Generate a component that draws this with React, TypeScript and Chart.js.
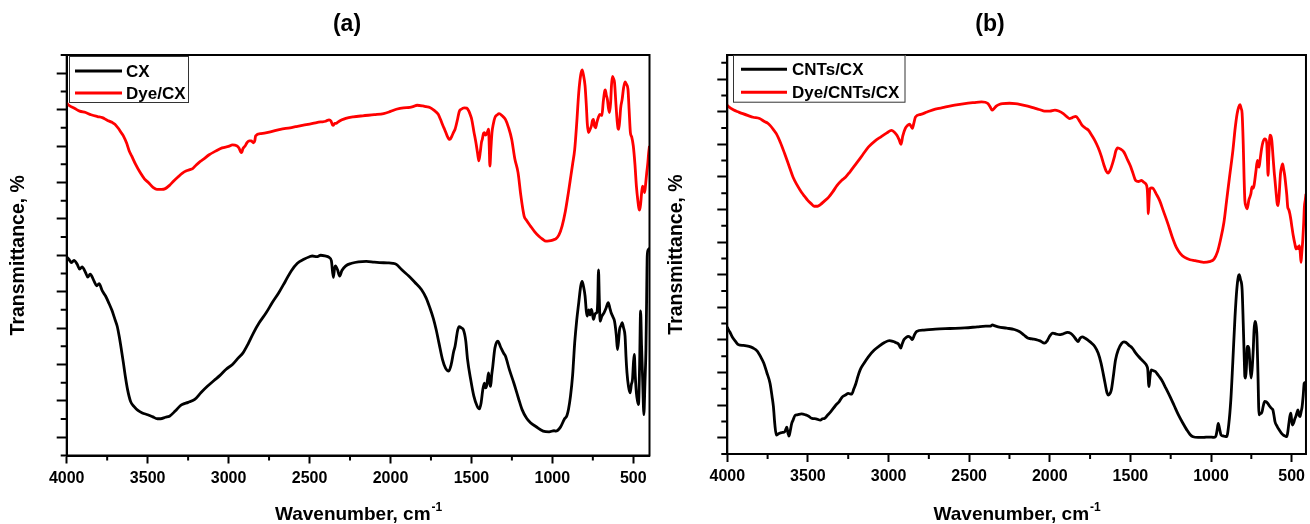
import React, { useEffect, useRef } from "react";
import { Chart, registerables } from "chart.js";

Chart.register(...registerables);

const FONT_FAMILY = "'Liberation Sans', Arial, Helvetica, sans-serif";

// Wavenumber axis (cm-1), drawn from high to low
const wavenumberTicks = [4000, 3500, 3000, 2500, 2000, 1500, 1000, 500];
const wavenumberMinorTicks = [3750, 3250, 2750, 2250, 1750, 1250, 750];

// Transmittance axis marks (the axis carries no numbers)
const transmittanceMajorA = [5, 15, 25, 35, 45, 55, 65, 75, 85, 95, 105];
const transmittanceMinorA = [0, 10, 20, 30, 40, 50, 60, 70, 80, 90, 100, 110];
const transmittanceMajorB = [5, 15, 25, 35, 45, 55, 65, 75, 85, 95, 105, 115];
const transmittanceMinorB = [0, 10, 20, 30, 40, 50, 60, 70, 80, 90, 100, 110, 120];

// ---- (a) CX ----
const cxWavenumber = [
  4000, 3987, 3970, 3955, 3935, 3920, 3905, 3883, 3870, 3855,
  3831, 3815, 3800, 3780, 3760, 3741, 3720, 3702, 3688, 3676,
  3662, 3650, 3637, 3624, 3605, 3585, 3560, 3533, 3500, 3468,
  3440, 3420, 3390, 3365, 3330, 3300, 3287, 3250, 3209, 3170,
  3131, 3090, 3053, 3015, 2976, 2940, 2911, 2880, 2846, 2810,
  2768, 2730, 2690, 2650, 2613, 2575, 2535, 2500, 2483, 2455,
  2431, 2405, 2379, 2365, 2353, 2345, 2340, 2327, 2314, 2300,
  2276, 2240, 2198, 2150, 2100, 2068, 2020, 1985, 1964, 1930,
  1887, 1850, 1809, 1780, 1757, 1735, 1718, 1700, 1679, 1660,
  1640, 1625, 1610, 1601, 1585, 1576, 1560, 1550, 1535, 1524,
  1505, 1485, 1465, 1451, 1440, 1430, 1420, 1413, 1407, 1400,
  1394, 1388, 1381, 1375, 1368, 1355, 1337, 1320, 1300, 1290,
  1265, 1238, 1210, 1187, 1160, 1135, 1100, 1057, 1020, 990,
  979, 950, 927, 910, 900, 888, 875, 862, 850, 837,
  825, 816, 808, 798, 790, 785, 775, 768, 759, 752,
  746, 735, 726, 720, 715, 710, 705, 695, 681, 668,
  655, 645, 637, 625, 616, 605, 598, 590, 585, 575,
  569, 560, 551, 545, 539, 530, 520, 512, 505, 499,
  494, 488, 481, 474, 468, 461, 455, 449, 443, 438,
  435, 428, 422, 418, 414, 408, 400,
];
const cxTransmittance = [
  54.5, 53.9, 53.0, 53.6, 52.5, 51.2, 51.8, 50.2, 49.0, 49.8,
  47.9, 46.6, 47.2, 45.2, 43.8, 42.0, 39.8, 37.4, 35.5, 32.8,
  29.0, 25.5, 21.5, 18.1, 14.8, 13.5, 12.4, 11.7, 11.2, 10.6,
  10.1, 10.1, 10.5, 10.8, 12.2, 13.6, 14.0, 14.6, 15.4, 17.3,
  19.0, 20.6, 22.0, 23.7, 25.0, 26.8, 28.2, 30.6, 33.7, 36.5,
  39.2, 42.0, 44.7, 47.8, 50.7, 52.8, 53.9, 54.6, 54.8, 54.6,
  55.0, 54.8, 54.4, 53.5, 48.9, 51.5, 52.1, 51.0, 49.3, 50.8,
  52.1, 52.8, 53.2, 53.3, 53.1, 53.0, 52.9, 52.8, 52.5, 51.0,
  49.3, 47.6, 45.6, 43.3, 40.6, 37.6, 34.6, 30.8, 26.4, 24.0,
  23.2, 25.0, 28.5, 30.0, 34.4, 35.4, 35.0, 34.6, 31.5, 26.4,
  21.0, 16.3, 13.6, 12.8, 14.5, 18.0, 19.9, 18.6, 19.0, 21.0,
  22.7, 20.0, 19.0, 22.0, 24.5, 29.5, 31.4, 29.8, 28.0, 27.3,
  23.5, 19.9, 15.8, 12.6, 10.3, 9.0, 7.9, 6.7, 6.5, 6.8,
  6.7, 7.8, 9.9, 11.0, 12.8, 16.3, 22.0, 31.0, 37.0, 42.0,
  46.5, 47.8, 46.5, 43.8, 39.5, 38.3, 40.0, 38.6, 40.1, 38.8,
  37.4, 39.0, 39.2, 42.0, 51.0, 43.0, 36.9, 38.2, 39.2, 40.5,
  42.0, 40.5, 39.2, 38.0, 36.9, 33.0, 29.1, 32.0, 34.6, 35.8,
  36.5, 35.0, 32.8, 27.0, 22.7, 19.0, 17.2, 19.5, 20.9, 25.5,
  27.8, 22.0, 17.2, 15.0, 14.0, 25.0, 39.7, 30.0, 21.8, 14.0,
  11.2, 20.0, 29.1, 42.0, 54.8, 56.5, 57.0,
];

// ---- (a) Dye/CX ----
const dyeCxWavenumber = [
  4000, 3987, 3950, 3920, 3883, 3850, 3810, 3780, 3750, 3720,
  3702, 3680, 3665, 3650, 3630, 3615, 3598, 3575, 3546, 3520,
  3494, 3465, 3443, 3415, 3391, 3365, 3339, 3310, 3287, 3260,
  3240, 3222, 3200, 3180, 3157, 3120, 3080, 3040, 3000, 2976,
  2950, 2937, 2925, 2919, 2912, 2898, 2885, 2872, 2860, 2846,
  2838, 2833, 2800, 2742, 2680, 2620, 2587, 2530, 2480, 2431,
  2400, 2379, 2368, 2358, 2353, 2345, 2335, 2327, 2300, 2276,
  2230, 2172, 2100, 2042, 2000, 1964, 1920, 1880, 1861, 1835,
  1800, 1780, 1757, 1730, 1705, 1690, 1675, 1666, 1650, 1640,
  1633, 1620, 1610, 1601, 1585, 1575, 1563, 1545, 1529, 1515,
  1505, 1498, 1485, 1472, 1462, 1454, 1445, 1438, 1433, 1425,
  1420, 1413, 1407, 1400, 1394, 1390, 1386, 1380, 1373, 1365,
  1355, 1340, 1329, 1310, 1290, 1270, 1251, 1232, 1212, 1195,
  1180, 1174, 1160, 1135, 1110, 1083, 1060, 1040, 1031, 1010,
  990, 979, 960, 940, 920, 901, 885, 875, 862, 850,
  837, 825, 816, 808, 798, 790, 784, 777, 768, 759,
  752, 746, 740, 733, 725, 715, 707, 700, 694, 686,
  678, 673, 667, 660, 654, 647, 640, 635, 629, 622,
  616, 608, 600, 594, 590, 584, 578, 569, 560, 551,
  543, 533, 526, 518, 510, 500, 490, 481, 472, 466,
  461, 455, 449, 443, 437, 430, 424, 417, 410, 405,
  400,
];
const dyeCxTransmittance = [
  96.8, 96.2, 95.3, 94.6, 94.2, 93.6, 93.1, 92.8, 92.1, 91.5,
  91.0, 89.8, 88.8, 87.8, 85.8, 83.8, 82.2, 80.0, 77.7, 76.0,
  74.9, 73.6, 73.1, 73.1, 73.3, 74.2, 75.4, 76.6, 77.5, 78.2,
  78.5, 78.8, 79.8, 80.6, 81.3, 82.6, 83.6, 84.5, 84.9, 85.3,
  85.1, 84.5, 83.4, 83.2, 84.2, 85.0, 86.0, 86.4, 86.4, 85.9,
  86.5, 87.8, 88.4, 88.9, 89.6, 90.0, 90.3, 90.8, 91.2, 91.6,
  91.8, 92.2, 91.9, 90.8, 90.7, 91.2, 91.2, 91.5, 92.2, 92.6,
  93.0, 93.3, 93.6, 93.9, 94.5, 95.1, 95.5, 95.6, 95.8, 96.2,
  96.0, 95.8, 95.6, 94.8, 93.7, 92.2, 90.5, 89.6, 87.8, 87.0,
  86.8, 87.8, 88.8, 89.6, 92.5, 94.5, 95.1, 95.5, 95.4, 94.5,
  93.3, 92.3, 89.0, 85.9, 83.0, 80.9, 83.5, 86.0, 86.8, 88.5,
  88.7, 88.0, 88.2, 89.0, 89.6, 85.0, 79.5, 84.0, 88.7, 91.0,
  92.8, 93.6, 93.9, 93.3, 92.3, 90.0, 86.8, 81.5, 77.7, 71.5,
  67.0, 65.7, 64.6, 63.0, 61.5, 60.2, 59.4, 58.9, 58.9, 59.0,
  59.3, 59.5, 60.5, 63.0, 67.0, 72.2, 77.0, 80.0, 84.1, 91.0,
  99.7, 104.5, 105.9, 104.5, 101.5, 96.0, 91.0, 88.7, 89.5, 90.5,
  92.0, 92.3, 90.5, 90.0, 91.5, 93.0, 93.7, 93.5, 93.4, 97.0,
  99.8, 100.4, 99.0, 97.8, 95.5, 94.2, 97.0, 101.5, 104.1, 103.5,
  102.4, 97.0, 92.0, 89.8, 89.6, 92.0, 95.5, 97.8, 101.0, 102.6,
  102.0, 100.6, 95.0, 88.7, 87.5, 85.0, 80.0, 74.0, 70.0, 68.0,
  67.4, 69.0, 72.0, 74.0, 73.5, 72.2, 74.5, 77.7, 80.5, 83.2,
  85.0,
];

// ---- (b) CNTs/CX ----
const cntsCxWavenumber = [
  4000, 3995, 3985, 3969, 3950, 3930, 3900, 3865, 3840, 3813,
  3795, 3774, 3755, 3735, 3722, 3714, 3705, 3696, 3683, 3670,
  3657, 3644, 3631, 3624, 3618, 3610, 3600, 3592, 3580, 3566,
  3540, 3514, 3495, 3475, 3450, 3423, 3410, 3397, 3380, 3358,
  3330, 3306, 3285, 3267, 3250, 3235, 3228, 3215, 3202, 3190,
  3176, 3150, 3124, 3090, 3060, 3025, 2995, 2970, 2956, 2940,
  2930, 2924, 2915, 2904, 2890, 2878, 2865, 2852, 2840, 2826,
  2780, 2709, 2620, 2527, 2450, 2397, 2370, 2355, 2345, 2320,
  2267, 2220, 2189, 2160, 2137, 2110, 2085, 2060, 2033, 2015,
  2000, 1981, 1960, 1942, 1920, 1890, 1870, 1851, 1835, 1825,
  1812, 1799, 1780, 1760, 1740, 1721, 1700, 1682, 1668, 1657,
  1645, 1636, 1626, 1618, 1608, 1592, 1575, 1553, 1540, 1527,
  1510, 1488, 1470, 1449, 1430, 1410, 1398, 1392, 1387, 1384,
  1380, 1371, 1360, 1345, 1325, 1306, 1280, 1254, 1228, 1202,
  1175, 1150, 1130, 1111, 1080, 1046, 1015, 981, 968, 960,
  955, 948, 937, 920, 903, 890, 877, 865, 851, 840,
  830, 825, 817, 807, 800, 793, 790, 785, 780, 775,
  770, 764, 758, 751, 745, 738, 733, 728, 722, 715,
  709, 702, 695, 686, 677, 667, 658, 649, 641, 634,
  625, 616, 610, 603, 590, 577, 565, 551, 540, 530,
  523, 517, 511, 505, 500, 495, 488, 480, 474, 468,
  461, 455, 448, 441, 435, 428, 422, 415, 411,
];
const cntsCxTransmittance = [
  39.0, 38.3, 37.5, 35.9, 34.6, 33.5, 33.3, 33.0, 32.5, 31.5,
  30.0, 27.9, 25.0, 21.7, 17.5, 14.5, 9.0, 5.8, 6.2, 6.5,
  6.6, 6.8, 8.2, 6.5, 5.5, 7.0, 9.5, 10.4, 11.8, 12.0,
  12.3, 12.0, 11.6, 10.9, 10.8, 10.4, 10.8, 10.9, 11.8, 13.0,
  14.8, 16.1, 17.6, 18.1, 18.6, 18.4, 18.4, 20.0, 21.7, 23.8,
  25.8, 28.0, 29.9, 31.8, 33.0, 34.2, 34.8, 34.5, 34.2, 33.8,
  33.0, 32.5, 33.8, 35.1, 35.8, 36.1, 35.8, 35.1, 36.5, 37.6,
  38.0, 38.3, 38.5, 38.7, 39.0, 39.2, 39.2, 39.6, 39.4, 39.0,
  38.6, 38.2, 37.6, 36.5, 35.6, 35.3, 35.1, 34.7, 34.0, 34.8,
  36.2, 37.1, 36.8, 36.6, 36.8, 37.3, 37.0, 36.1, 35.0, 34.5,
  35.5, 35.9, 35.5, 34.8, 34.0, 33.0, 31.0, 27.9, 24.5, 21.7,
  18.8, 18.1, 18.6, 19.7, 23.0, 28.9, 32.0, 34.0, 34.4, 34.2,
  33.4, 32.5, 31.2, 29.9, 28.9, 27.9, 27.0, 25.8, 21.5, 20.7,
  23.0, 25.8, 25.6, 25.3, 24.0, 22.7, 20.2, 17.6, 14.8, 12.0,
  9.5, 7.4, 6.0, 5.3, 5.1, 5.1, 5.2, 5.1, 5.8, 8.0,
  9.4, 8.0, 5.8, 5.5, 5.3, 9.0, 16.6, 28.0, 42.2, 50.5,
  54.5, 55.0, 53.5, 50.4, 40.0, 28.0, 23.8, 23.3, 27.0, 33.0,
  33.0, 32.0, 27.0, 23.3, 26.0, 32.0, 38.0, 40.7, 40.0, 36.1,
  25.0, 12.0, 12.5, 12.5, 14.5, 16.1, 16.0, 15.6, 15.0, 14.5,
  14.0, 13.5, 12.0, 9.9, 8.5, 7.4, 6.5, 5.8, 5.5, 5.3,
  7.0, 9.4, 11.5, 12.5, 10.5, 8.9, 9.5, 10.8, 11.5, 12.5,
  13.5, 12.0, 11.5, 13.0, 14.5, 18.0, 21.7, 22.0, 21.7,
];

// ---- (b) Dye/CNTs/CX ----
const dyeCntsCxWavenumber = [
  4000, 3995, 3960, 3930, 3904, 3870, 3840, 3800, 3770, 3750,
  3735, 3715, 3696, 3670, 3644, 3618, 3592, 3566, 3540, 3520,
  3501, 3480, 3462, 3440, 3423, 3400, 3371, 3345, 3319, 3290,
  3267, 3240, 3202, 3160, 3124, 3085, 3047, 3010, 2982, 2965,
  2948, 2935, 2922, 2912, 2896, 2882, 2870, 2860, 2852, 2843,
  2833, 2800, 2761, 2710, 2657, 2590, 2527, 2470, 2423, 2400,
  2384, 2370, 2358, 2345, 2332, 2310, 2293, 2250, 2215, 2180,
  2137, 2090, 2060, 2033, 2000, 1968, 1945, 1916, 1895, 1877,
  1860, 1838, 1820, 1799, 1780, 1760, 1740, 1721, 1700, 1682,
  1665, 1650, 1638, 1628, 1618, 1600, 1590, 1579, 1560, 1540,
  1520, 1501, 1485, 1467, 1450, 1431, 1415, 1405, 1395, 1390,
  1389, 1385, 1379, 1368, 1358, 1340, 1319, 1295, 1267, 1240,
  1215, 1190, 1163, 1130, 1098, 1070, 1046, 1010, 981, 960,
  942, 920, 903, 885, 864, 850, 838, 828, 820, 813,
  807, 800, 795, 790, 783, 777, 770, 765, 759, 752,
  746, 740, 733, 722, 712, 707, 702, 695, 686, 677,
  667, 660, 654, 650, 646, 641, 634, 628, 623, 615,
  608, 603, 595, 590, 584, 578, 569, 562, 556, 550,
  543, 537, 530, 524, 518, 511, 505, 498, 490, 480,
  472, 465, 458, 452, 446, 442, 438, 431, 425, 421,
  415, 411,
];
const dyeCntsCxTransmittance = [
  107.0, 106.7, 105.5, 104.9, 104.4, 103.8, 103.3, 102.9, 102.0, 101.5,
  100.8, 99.6, 98.3, 95.5, 92.1, 88.5, 84.9, 82.4, 80.3, 79.0,
  77.8, 76.8, 76.0, 76.0, 76.5, 77.5, 78.8, 80.5, 82.4, 84.0,
  84.9, 86.5, 89.0, 91.8, 94.2, 96.0, 97.3, 98.5, 99.3, 98.8,
  97.8, 96.5, 95.0, 97.5, 99.9, 100.8, 101.2, 100.5, 99.9, 101.5,
  103.4, 104.2, 104.9, 105.8, 106.3, 107.0, 107.5, 107.8, 108.0, 107.9,
  107.5, 106.5, 105.5, 106.0, 106.7, 107.3, 107.5, 107.6, 107.5, 107.2,
  106.7, 106.0, 105.6, 105.2, 105.2, 105.5, 105.2, 104.4, 103.5, 102.9,
  103.2, 103.6, 102.5, 100.8, 100.0, 99.3, 97.8, 96.2, 94.0, 91.6,
  88.8, 86.8, 86.2, 86.8, 88.0, 91.0, 93.0, 93.9, 93.5, 92.6,
  90.5, 88.5, 86.3, 83.9, 83.6, 83.9, 83.3, 82.9, 81.0, 75.0,
  73.7, 77.0, 81.4, 81.6, 81.4, 79.8, 77.8, 74.5, 70.6, 66.5,
  63.4, 61.5, 60.3, 59.6, 59.3, 59.0, 58.8, 59.0, 59.8, 62.0,
  65.5, 71.0, 77.8, 85.0, 93.2, 100.0, 104.4, 106.5, 107.2, 106.0,
  104.4, 95.0, 85.0, 77.8, 76.0, 75.2, 76.5, 78.0, 78.8, 80.0,
  81.9, 81.5, 82.4, 86.5, 90.1, 88.5, 88.0, 90.5, 93.7, 95.8,
  96.7, 96.5, 95.2, 90.0, 85.5, 92.0, 97.8, 97.5, 96.2, 91.0,
  86.5, 83.9, 79.5, 77.0, 76.2, 79.0, 86.0, 88.0, 89.0, 87.5,
  85.5, 82.9, 79.5, 75.7, 75.0, 73.7, 72.0, 69.6, 67.0, 64.5,
  62.9, 63.5, 63.0, 63.9, 61.5, 58.8, 61.0, 65.5, 71.0, 75.7,
  78.0, 79.8,
];

const CANVAS_W = 655;
const CANVAS_H = 524;

type Series = { label: string; wave: number[]; t: number[]; color: string };
type Panel = {
  key: string;
  title: string;
  left: number;
  titleX: number;
  xMin: number;
  yMax: number;
  yMajor: number[];
  yMinor: number[];
  yAxisWidth: number;
  yTitlePad: number;
  xAxisHeight: number;
  padRight: number;
  legendBox: { x: number; y: number; w: number; h: number };
  legendLine: [number, number];
  legendTextX: number;
  legendRows: number[];
  series: Series[];
};

const panels: Panel[] = [
  {
    key: "a",
    title: "(a)",
    left: 0,
    titleX: 347,
    xMin: 400,
    yMax: 110,
    yMajor: transmittanceMajorA,
    yMinor: transmittanceMinorA,
    yAxisWidth: 66.7,
    yTitlePad: 6.6,
    xAxisHeight: 68.5,
    padRight: 5.5,
    legendBox: { x: 69, y: 56, w: 120, h: 47 },
    legendLine: [75, 122],
    legendTextX: 126,
    legendRows: [71, 93],
    series: [
      { label: "CX", wave: cxWavenumber, t: cxTransmittance, color: "#000000" },
      { label: "Dye/CX", wave: dyeCxWavenumber, t: dyeCxTransmittance, color: "#ff0000" },
    ],
  },
  {
    key: "b",
    title: "(b)",
    left: 655,
    titleX: 335,
    xMin: 411,
    yMax: 122.4,
    yMajor: transmittanceMajorB,
    yMinor: transmittanceMinorB,
    yAxisWidth: 72.3,
    yTitlePad: 10.3,
    xAxisHeight: 70,
    padRight: 1.3,
    legendBox: { x: 78, y: 55, w: 172.5, h: 47.7 },
    legendLine: [86, 132],
    legendTextX: 137,
    legendRows: [69.3, 92.3],
    series: [
      { label: "CNTs/CX", wave: cntsCxWavenumber, t: cntsCxTransmittance, color: "#000000" },
      { label: "Dye/CNTs/CX", wave: dyeCntsCxWavenumber, t: dyeCntsCxTransmittance, color: "#ff0000" },
    ],
  },
];

// Frame, minor ticks, panel letter, x-axis title with superscript, boxed legend
function decorations(panel: Panel) {
  return {
    id: "spectrumDecorations" + panel.key,
    afterDraw(chart: any) {
      const { ctx, chartArea } = chart;
      const xs = chart.scales.x;
      const ys = chart.scales.y;
      const { left, right, top, bottom } = chartArea;
      ctx.save();

      // plot frame
      ctx.strokeStyle = "#000";
      ctx.lineWidth = 2;
      ctx.strokeRect(left, top, right - left, bottom - top);

      // minor ticks
      ctx.lineWidth = 2;
      ctx.beginPath();
      for (const v of wavenumberMinorTicks) {
        const px = xs.getPixelForValue(v);
        ctx.moveTo(px, bottom);
        ctx.lineTo(px, bottom + 5);
      }
      for (const v of panel.yMinor) {
        const py = ys.getPixelForValue(v);
        ctx.moveTo(left - 6, py);
        ctx.lineTo(left, py);
      }
      ctx.stroke();

      // panel letter
      ctx.fillStyle = "#000";
      ctx.font = `bold 23px ${FONT_FAMILY}`;
      ctx.textAlign = "center";
      ctx.textBaseline = "middle";
      ctx.fillText(panel.title, panel.titleX, 25);

      // x-axis title with superscript
      const main = "Wavenumber, cm";
      const sup = "-1";
      ctx.font = `bold 19px ${FONT_FAMILY}`;
      const wMain = ctx.measureText(main).width;
      ctx.font = `bold 12px ${FONT_FAMILY}`;
      const wSup = ctx.measureText(sup).width;
      const cx = (left + right) / 2;
      const x0 = cx - (wMain + wSup) / 2;
      ctx.textAlign = "left";
      ctx.textBaseline = "alphabetic";
      ctx.font = `bold 19px ${FONT_FAMILY}`;
      ctx.fillText(main, x0, 520);
      ctx.font = `bold 12px ${FONT_FAMILY}`;
      ctx.fillText(sup, x0 + wMain + 1, 511);

      // legend
      const b = panel.legendBox;
      ctx.fillStyle = "#fff";
      ctx.fillRect(b.x, b.y, b.w, b.h);
      ctx.strokeStyle = "#333";
      ctx.lineWidth = 1;
      ctx.strokeRect(b.x + 0.5, b.y + 0.5, b.w - 1, b.h - 1);
      chart.data.datasets.forEach((ds: any, i: number) => {
        const y = panel.legendRows[i];
        ctx.strokeStyle = ds.borderColor;
        ctx.lineWidth = 3;
        ctx.beginPath();
        ctx.moveTo(panel.legendLine[0], y);
        ctx.lineTo(panel.legendLine[1], y);
        ctx.stroke();
        ctx.fillStyle = "#000";
        ctx.font = `bold 17px ${FONT_FAMILY}`;
        ctx.textAlign = "left";
        ctx.textBaseline = "middle";
        ctx.fillText(ds.label, panel.legendTextX, y + 1);
      });

      ctx.restore();
    },
  };
}

function buildConfig(panel: Panel): any {
  const axisGrid = {
    display: true,
    drawOnChartArea: false,
    drawTicks: true,
    tickWidth: 2,
    tickColor: "#000",
  };
  return {
    type: "line",
    data: {
      datasets: panel.series.map((s) => ({
        label: s.label,
        data: s.wave.map((w, i) => ({ x: w, y: s.t[i] })),
        borderColor: s.color,
        backgroundColor: s.color,
        borderWidth: 2.8,
        pointRadius: 0,
        fill: false,
        cubicInterpolationMode: "monotone",
      })),
    },
    options: {
      responsive: false,
      animation: false,
      devicePixelRatio: 1,
      events: [],
      layout: { padding: { left: 0, right: panel.padRight, top: 55, bottom: 0 } },
      plugins: {
        legend: { display: false },
        title: { display: false },
        tooltip: { enabled: false },
      },
      scales: {
        x: {
          type: "linear",
          reverse: true,
          min: panel.xMin,
          max: 4000,
          afterBuildTicks: (s: any) => {
            s.ticks = wavenumberTicks.map((v) => ({ value: v }));
          },
          afterFit: (s: any) => {
            s.height = panel.xAxisHeight;
          },
          ticks: {
            autoSkip: false,
            maxRotation: 0,
            padding: 5,
            color: "#000",
            font: { family: FONT_FAMILY, size: 16, weight: "bold" },
            callback: (v: any) => String(v),
          },
          grid: { ...axisGrid, tickLength: 8 },
          border: { display: true, color: "#000", width: 2 },
        },
        y: {
          type: "linear",
          min: 0,
          max: panel.yMax,
          afterBuildTicks: (s: any) => {
            s.ticks = panel.yMajor.map((v) => ({ value: v }));
          },
          afterFit: (s: any) => {
            s.width = panel.yAxisWidth;
          },
          ticks: { display: false },
          grid: { ...axisGrid, tickLength: 10 },
          border: { display: true, color: "#000", width: 2 },
          title: {
            display: true,
            text: "Transmittance, %",
            color: "#000",
            font: { family: FONT_FAMILY, size: 19.5, weight: "bold" },
            padding: { top: panel.yTitlePad, bottom: 0 },
          },
        },
      },
    },
    plugins: [decorations(panel)],
  };
}

function SpectrumPanel({ panel }: { panel: Panel }) {
  const ref = useRef<HTMLCanvasElement | null>(null);
  useEffect(() => {
    if (!ref.current) return;
    const chart = new Chart(ref.current, buildConfig(panel));
    return () => chart.destroy();
  }, [panel]);
  return (
    <canvas
      ref={ref}
      width={CANVAS_W}
      height={CANVAS_H}
      style={{ position: "absolute", left: panel.left, top: 0, width: CANVAS_W, height: CANVAS_H }}
    />
  );
}

export default function App() {
  return (
    <div
      style={{
        position: "absolute",
        left: 0,
        top: 0,
        width: 1310,
        height: 524,
        background: "#fff",
        overflow: "hidden",
      }}
    >
      {panels.map((p) => (
        <SpectrumPanel key={p.key} panel={p} />
      ))}
    </div>
  );
}
